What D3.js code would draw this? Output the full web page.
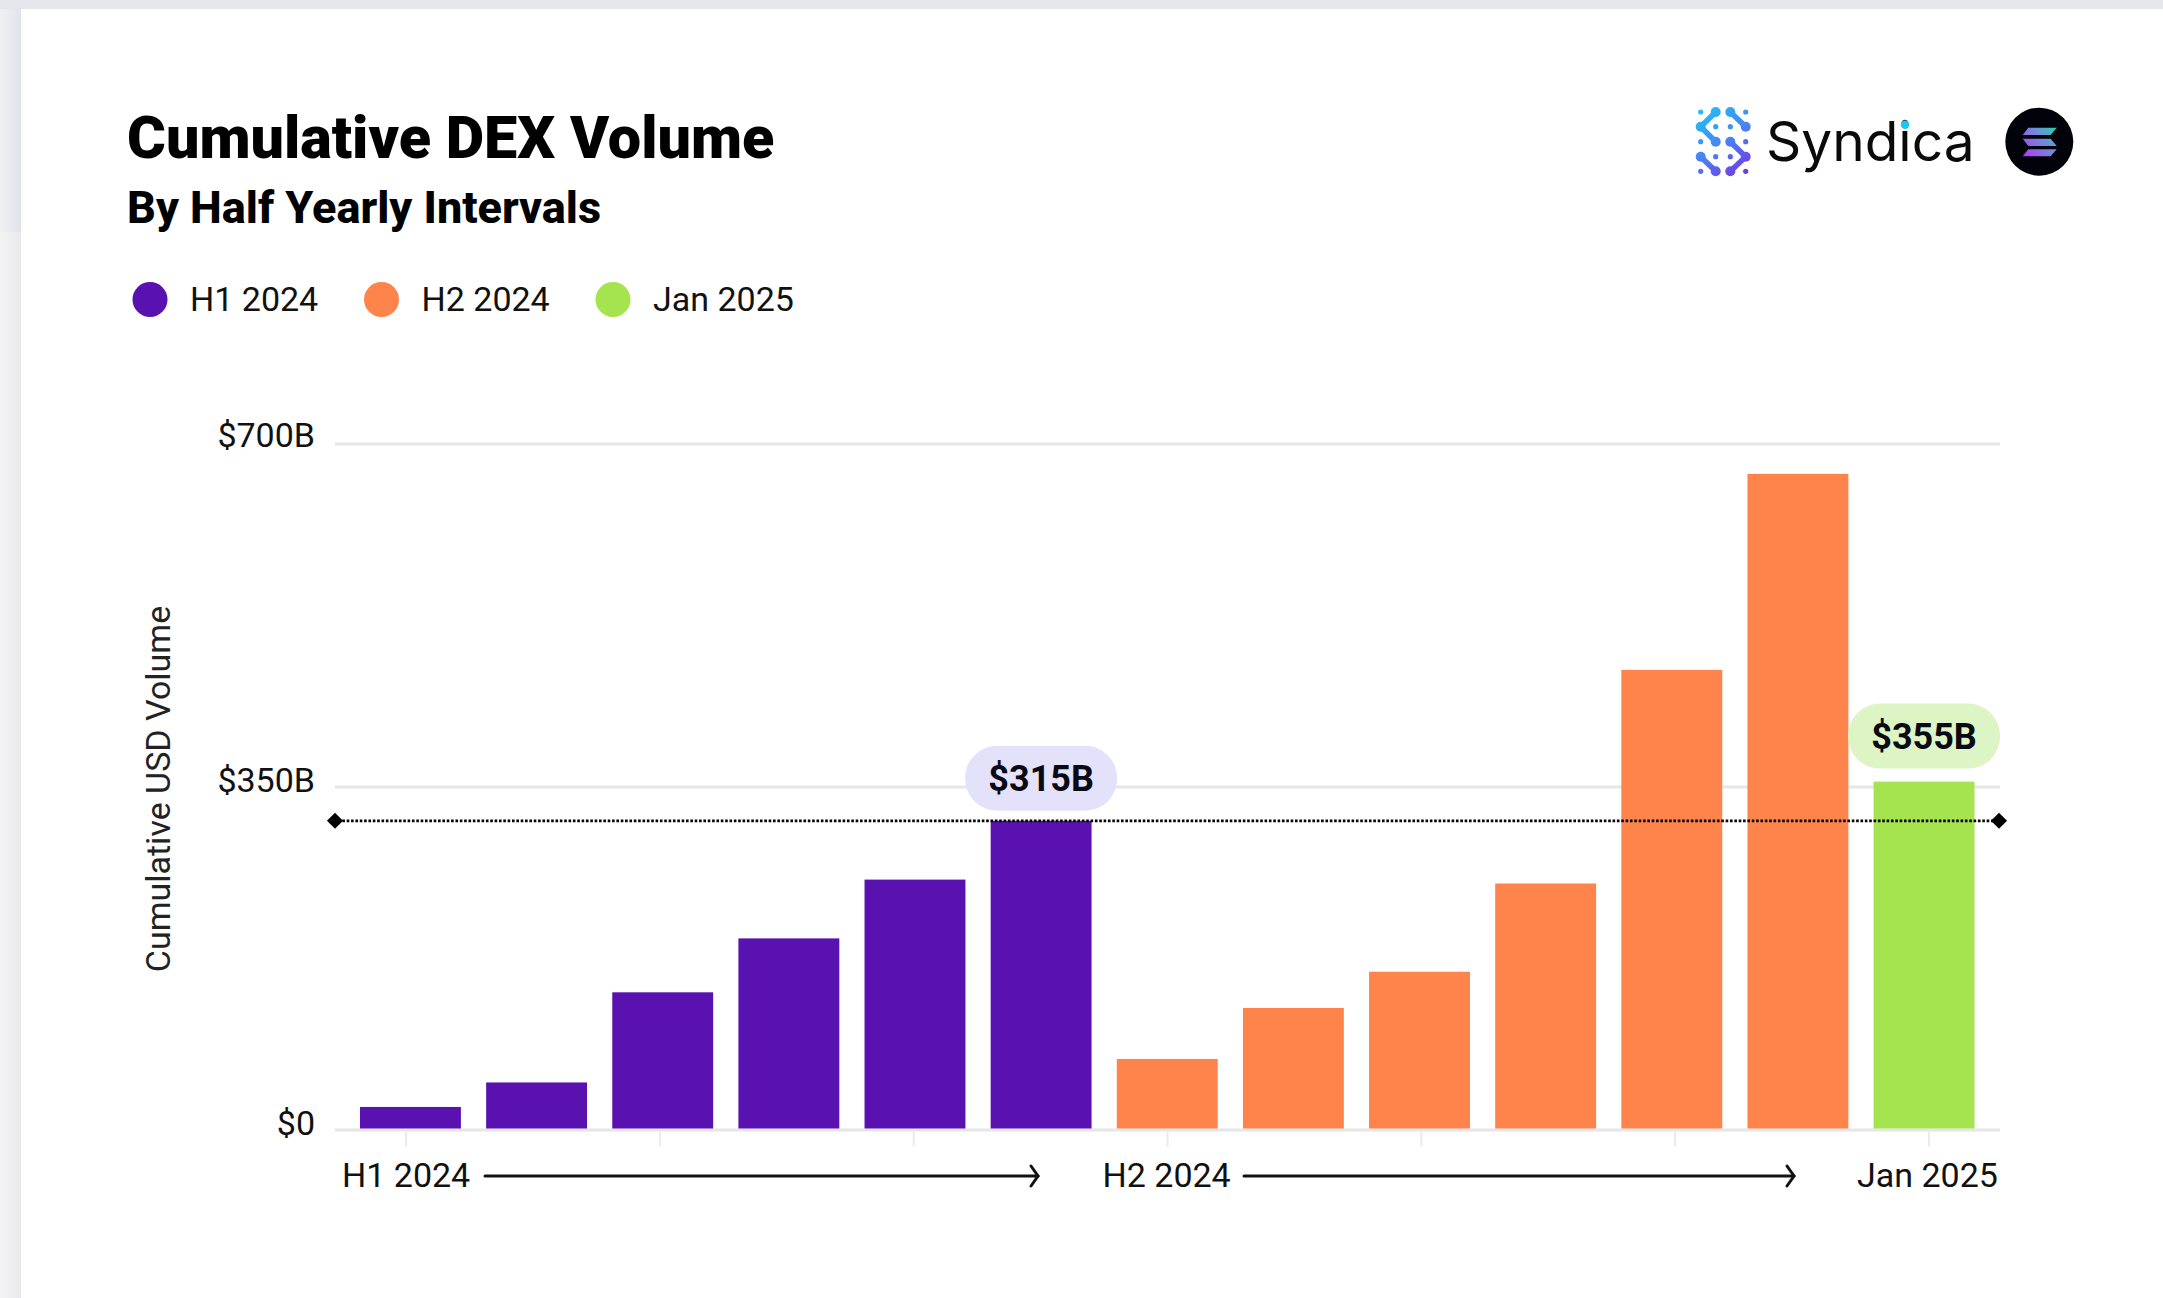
<!DOCTYPE html>
<html>
<head>
<meta charset="utf-8">
<script src="https://cdn.jsdelivr.net/npm/d3@7/dist/d3.min.js"></script>
<style>
  html, body { margin: 0; padding: 0; background: #fff; overflow: hidden; }
  svg { display: block; font-family: Roboto, sans-serif; }
</style>
</head>
<body>
<svg id="chart" width="2163" height="1298"></svg>
<script>
// Monthly buckets, grouped by reporting period
const months = ["Jan 24","Feb 24","Mar 24","Apr 24","May 24","Jun 24","Jul 24","Aug 24","Sep 24","Oct 24","Nov 24","Dec 24","Jan 25"];
const volumes = [23, 48, 140, 195, 255, 315, 72, 124, 161, 251, 469, 669, 355];
const periods = ["H1 2024","H1 2024","H1 2024","H1 2024","H1 2024","H1 2024","H2 2024","H2 2024","H2 2024","H2 2024","H2 2024","H2 2024","Jan 2025"];
const legendLabels = ["H1 2024", "H2 2024", "Jan 2025"];
const legendColors = ["#5912B0", "#FF844C", "#A5E34F"];
const yTicks = [0, 350, 700];
const callouts = [
  { month: "Jun 24", value: 315, label: "$315B", fill: "#E4E1FB", gap: 10 },
  { month: "Jan 25", value: 355, label: "$355B", fill: "#DDF4C4", gap: 13 }
];
const benchmark = 315;

const svg = d3.select("#chart");
const defs = svg.append("defs");
const ink = "#111";

// Page surround and white card
const stripGrad = defs.append("linearGradient").attr("id", "stripGrad");
stripGrad.append("stop").attr("offset", 0).attr("stop-color", "#EEF0F3");
stripGrad.append("stop").attr("offset", 1).attr("stop-color", "#E1E3E9");
const stripGradLow = defs.append("linearGradient").attr("id", "stripGradLow");
stripGradLow.append("stop").attr("offset", 0).attr("stop-color", "#F3F3F4");
stripGradLow.append("stop").attr("offset", 1).attr("stop-color", "#EAEAEC");
svg.append("rect").attr("width", 2163).attr("height", 9).attr("fill", "#E4E6EC");
svg.append("rect").attr("y", 9).attr("width", 21).attr("height", 223).attr("fill", "url(#stripGrad)");
svg.append("rect").attr("y", 232).attr("width", 21).attr("height", 1066).attr("fill", "url(#stripGradLow)");
svg.append("rect").attr("x", 21).attr("y", 9).attr("width", 2142).attr("height", 1289).attr("fill", "#fff");

// Scales
const color = d3.scaleOrdinal().domain(legendLabels).range(legendColors);
const x = d3.scaleBand().domain(months).range([360, 1974.5]).paddingInner(0.2).paddingOuter(0);
const y = d3.scaleLinear().domain([0, 700]).range([1129.5, 443.5]);
const xLeft = 335, xRight = 2000;

// Title block
svg.append("text").attr("x", 127).attr("y", 157.5).attr("font-size", 59.3).attr("font-weight", 900)
  .attr("fill", "#000").text("Cumulative DEX Volume");
svg.append("text").attr("x", 127).attr("y", 223).attr("font-size", 45).attr("font-weight", 800)
  .attr("fill", "#000").text("By Half Yearly Intervals");

// Legend
const legendX = d3.scalePoint().domain(legendLabels).range([150, 613]);
const legend = svg.append("g").selectAll("g").data(legendLabels).join("g")
  .attr("transform", d => `translate(${legendX(d)},299.5)`);
legend.append("circle").attr("r", 17.5).attr("fill", d => color(d));
legend.append("text").attr("x", 40).attr("y", 11.5).attr("font-size", 34).attr("fill", ink).text(d => d);

// Horizontal grid and value labels
const yAxis = svg.append("g").attr("transform", `translate(${xLeft},0)`)
  .call(d3.axisLeft(y).tickValues(yTicks).tickSize(-(xRight - xLeft)).tickSizeOuter(0).tickPadding(20)
    .tickFormat(d => d === 0 ? "$0" : `$${d}B`));
yAxis.select(".domain").remove();
yAxis.selectAll("line").attr("stroke", "#E6E6E8").attr("stroke-width", 3);
yAxis.selectAll("text").attr("font-size", 34).attr("font-family", "Roboto, sans-serif").attr("fill", ink)
  .attr("dy", d => d === 0 ? "5px" : d === 350 ? "4.5px" : "3px");

// Ticks below the baseline
const tickX = d3.scaleLinear().domain([0, 6]).range([405.5, 1928.5]);
const xAxis = svg.append("g").attr("transform", `translate(0,${y(0)})`)
  .call(d3.axisBottom(tickX).ticks(7).tickSize(17).tickFormat(""));
xAxis.select(".domain").remove();
xAxis.selectAll("line").attr("stroke", "#EBEBEE").attr("stroke-width", 2);

// Y axis title
svg.append("text").attr("transform", "translate(170,789) rotate(-90)").attr("text-anchor", "middle")
  .attr("font-size", 34).attr("fill", "#222").text("Cumulative USD Volume");

// Bars
svg.append("g").selectAll("rect").data(months).join("rect")
  .attr("x", d => x(d)).attr("width", x.bandwidth())
  .attr("y", (d, i) => y(volumes[i]))
  .attr("height", (d, i) => y(0) - 1 - y(volumes[i]))
  .attr("fill", (d, i) => color(periods[i]));

// Benchmark line across the plot
svg.append("line").attr("x1", xLeft + 3).attr("x2", xRight - 2)
  .attr("y1", y(benchmark)).attr("y2", y(benchmark))
  .attr("stroke", "#000").attr("stroke-width", 2.8).attr("stroke-dasharray", "2.6 1.75");
svg.append("g").selectAll("path").data([xLeft, xRight - 1]).join("path")
  .attr("d", d3.symbol(d3.symbolSquare, 130))
  .attr("transform", d => `translate(${d},${y(benchmark)}) rotate(45)`)
  .attr("fill", "#000");

// Value call-outs above highlighted bars
const pillW = 152, pillH = 65;
const pills = svg.append("g").selectAll("g").data(callouts).join("g")
  .attr("transform", d => `translate(${x(d.month) + x.bandwidth() / 2},${y(d.value) - d.gap - pillH / 2})`);
pills.append("rect").attr("x", -pillW / 2).attr("y", -pillH / 2).attr("width", pillW).attr("height", pillH)
  .attr("rx", 32).attr("fill", d => d.fill);
pills.append("text").attr("text-anchor", "middle").attr("y", 12.5).attr("font-size", 36).attr("font-weight", 700)
  .attr("fill", "#0A0A14").text(d => d.label);

// Period labels with arrows under the axis
const periodLabels = [
  { text: "H1 2024", x: 342, arrow: [485, 1038] },
  { text: "H2 2024", x: 1102.5, arrow: [1244, 1794] },
  { text: "Jan 2025", x: 1857 }
];
const footer = svg.append("g");
footer.selectAll("text").data(periodLabels).join("text")
  .attr("x", d => d.x).attr("y", 1187).attr("font-size", 34).attr("fill", ink).text(d => d.text);
const arrows = footer.selectAll("g").data(periodLabels.filter(d => d.arrow)).join("g")
  .attr("fill", "none").attr("stroke", "#111").attr("stroke-width", 3).attr("stroke-linecap", "round");
arrows.append("path").attr("d", d => d3.line()([[d.arrow[0], 1176], [d.arrow[1], 1176]]));
arrows.append("path").attr("d", d => d3.line()([[d.arrow[1] - 7, 1166], [d.arrow[1], 1176], [d.arrow[1] - 7, 1186]]));

// Syndica mark: a dot lattice whose larger nodes are joined into an S
const markGrad = defs.append("linearGradient").attr("id", "markGrad").attr("gradientUnits", "userSpaceOnUse")
  .attr("x1", 1700).attr("y1", 108).attr("x2", 1750).attr("y2", 176);
markGrad.append("stop").attr("offset", 0).attr("stop-color", "#1FC3F5");
markGrad.append("stop").attr("offset", 0.5).attr("stop-color", "#4A82F2");
markGrad.append("stop").attr("offset", 1).attr("stop-color", "#7A2FE0");
const markCols = [1700.7, 1715.7, 1730.3, 1745.7];
const markRows = [112, 126.7, 141.7, 156.7, 171.3];
const bigNodes = [[1,0],[2,0],[0,1],[3,1],[1,2],[2,2],[0,3],[3,3],[1,4],[2,4]];
const smallNodes = [[0,0],[3,0],[1,1],[2,1],[0,2],[3,2],[1,3],[2,3],[0,4],[3,4]];
const links = [[[1,0],[0,1]],[[0,1],[1,2]],[[2,0],[3,1]],[[2,2],[3,3]],[[3,3],[2,4]],[[0,3],[1,4]]];
const mark = svg.append("g").attr("fill", "url(#markGrad)");
mark.selectAll(".big").data(bigNodes).join("circle").attr("class", "big")
  .attr("cx", d => markCols[d[0]]).attr("cy", d => markRows[d[1]]).attr("r", 5);
mark.selectAll(".small").data(smallNodes).join("circle").attr("class", "small")
  .attr("cx", d => markCols[d[0]]).attr("cy", d => markRows[d[1]]).attr("r", 2.6);
mark.selectAll("path").data(links).join("path")
  .attr("d", d => d3.line()(d.map(p => [markCols[p[0]], markRows[p[1]]])))
  .attr("stroke", "url(#markGrad)").attr("stroke-width", 5.5).attr("fill", "none");

const brand = svg.append("text").attr("x", 1766).attr("y", 161).attr("font-family", "Inter, sans-serif")
  .attr("font-size", 55).attr("font-weight", 400).attr("fill", "#0A0A0A").text("Syndica");
// The i carries the brand's cyan dot
const iBox = brand.node().getExtentOfChar(4);
svg.append("circle").attr("cx", iBox.x + iBox.width / 2).attr("cy", 124.7).attr("r", 4.2).attr("fill", "#1FC3F5");

// Solana badge
const solGrad = defs.append("linearGradient").attr("id", "solGrad").attr("gradientUnits", "userSpaceOnUse")
  .attr("x1", 2057).attr("y1", 127).attr("x2", 2024).attr("y2", 156);
solGrad.append("stop").attr("offset", 0).attr("stop-color", "#1FD8A8");
solGrad.append("stop").attr("offset", 0.4).attr("stop-color", "#6E8FD8");
solGrad.append("stop").attr("offset", 1).attr("stop-color", "#B03CF0");
svg.append("circle").attr("cx", 2039.3).attr("cy", 141.7).attr("r", 34).attr("fill", "#02020A");
const solBars = [
  [[2028.3,127.7],[2056.7,127.7],[2050.7,135],[2022.7,135]],
  [[2022.7,138.7],[2050.7,138.7],[2056.7,146],[2028.3,146]],
  [[2028.3,149.3],[2056.7,149.3],[2050.7,156.3],[2022.7,156.3]]
];
svg.append("g").selectAll("path").data(solBars).join("path")
  .attr("d", d => d3.line().curve(d3.curveLinearClosed)(d)).attr("fill", "url(#solGrad)");
</script>
</body>
</html>
